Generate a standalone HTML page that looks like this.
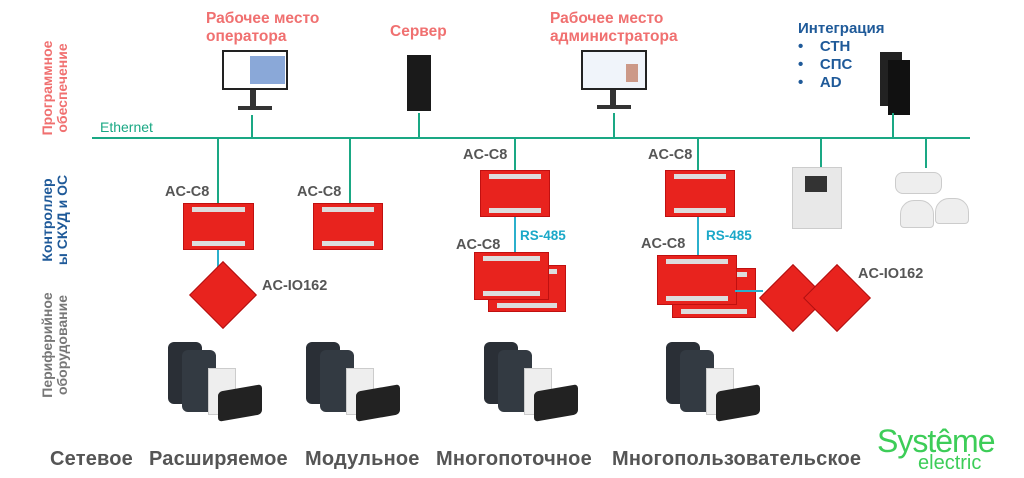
<!DOCTYPE html>
<html><head><meta charset="utf-8"><style>
body{margin:0;width:1024px;height:478px;background:#fff;position:relative;overflow:hidden;font-family:"Liberation Sans","DejaVu Sans",sans-serif}
.a{position:absolute}
.t{position:absolute;font-weight:bold;white-space:nowrap}
.pk{color:#f07070;font-size:15.5px;line-height:18px}
.gr{color:#555;font-size:14.5px}
.bl{color:#1ba8c8;font-size:13.5px}
.ln{position:absolute;background:#1aa884}
.bln{position:absolute;background:#2bb0cc}
.board{position:absolute;background:#e8231e;border:1px solid #c01010;box-sizing:border-box}
.board:before{content:"";position:absolute;left:8px;right:8px;top:3px;height:5px;background:#ddd}
.board:after{content:"";position:absolute;left:8px;right:8px;bottom:3px;height:5px;background:#ddd}
.dia{position:absolute;width:46px;height:46px;background:#e8231e;transform:rotate(45deg);border:1px solid #b01010}
.vl{position:absolute;transform:rotate(-90deg);transform-origin:center;font-weight:bold;text-align:center;font-size:14px;line-height:15px;white-space:nowrap}
.bot{position:absolute;top:448px;font-size:20px;font-weight:bold;color:#555;white-space:nowrap;letter-spacing:0.2px}
</style></head><body>
<div class="vl" style="left:-5px;top:73px;width:120px;color:#f07070">Программное<br>обеспечение</div>
<div class="vl" style="left:-5px;top:205px;width:120px;color:#1f5a99">Контроллер<br>ы СКУД и ОС</div>
<div class="vl" style="left:-5px;top:330px;width:120px;color:#777">Периферийное<br>оборудование</div>

<div class="t pk" style="left:206px;top:10px">Рабочее место<br>оператора</div>
<div class="t pk" style="left:390px;top:23px">Сервер</div>
<div class="t pk" style="left:550px;top:10px">Рабочее место<br>администратора</div>
<div class="t" style="left:798px;top:20px;color:#1f5a99;font-size:15px;line-height:18px">Интеграция<br>•&nbsp;&nbsp;&nbsp;&nbsp;СТН<br>•&nbsp;&nbsp;&nbsp;&nbsp;СПС<br>•&nbsp;&nbsp;&nbsp;&nbsp;AD</div>
<div class="a" style="left:100px;top:119px;color:#1aa884;font-size:14px">Ethernet</div>

<div class="a" style="left:222px;top:50px;width:66px;height:40px;background:#fff;border:2px solid #222;box-sizing:border-box"><div class="a" style="left:26px;top:4px;width:35px;height:28px;background:#8aa8d8"></div></div>
<div class="a" style="left:250px;top:90px;width:6px;height:16px;background:#333"></div>
<div class="a" style="left:238px;top:106px;width:34px;height:4px;background:#333"></div>
<div class="a" style="left:581px;top:50px;width:66px;height:40px;background:#f0f4fa;border:2px solid #222;box-sizing:border-box"><div class="a" style="left:43px;top:12px;width:12px;height:18px;background:#c98"></div></div>
<div class="a" style="left:610px;top:90px;width:6px;height:15px;background:#333"></div>
<div class="a" style="left:597px;top:105px;width:34px;height:4px;background:#333"></div>
<div class="a" style="left:407px;top:55px;width:24px;height:56px;background:#1a1a1a"></div>
<div class="a" style="left:880px;top:52px;width:22px;height:54px;background:#222"></div>
<div class="a" style="left:888px;top:60px;width:22px;height:55px;background:#111"></div>

<div class="ln" style="left:92px;top:137px;width:878px;height:2px"></div>
<div class="ln" style="left:251px;top:115px;width:2px;height:24px"></div>
<div class="ln" style="left:418px;top:113px;width:2px;height:26px"></div>
<div class="ln" style="left:613px;top:113px;width:2px;height:26px"></div>
<div class="ln" style="left:892px;top:113px;width:2px;height:26px"></div>
<div class="ln" style="left:217px;top:138px;width:2px;height:66px"></div>
<div class="ln" style="left:349px;top:138px;width:2px;height:66px"></div>
<div class="ln" style="left:514px;top:138px;width:2px;height:32px"></div>
<div class="ln" style="left:697px;top:138px;width:2px;height:32px"></div>
<div class="ln" style="left:820px;top:138px;width:2px;height:30px"></div>
<div class="ln" style="left:925px;top:138px;width:2px;height:30px"></div>

<div class="t gr" style="left:165px;top:184px">AC-C8</div>
<div class="t gr" style="left:297px;top:184px">AC-C8</div>
<div class="t gr" style="left:463px;top:147px">AC-C8</div>
<div class="t gr" style="left:648px;top:147px">AC-C8</div>
<div class="t gr" style="left:456px;top:237px">AC-C8</div>
<div class="t gr" style="left:641px;top:236px">AC-C8</div>
<div class="t gr" style="left:262px;top:278px">AC-IO162</div>
<div class="t gr" style="left:858px;top:266px">AC-IO162</div>
<div class="t bl" style="left:520px;top:228px">RS-485</div>
<div class="t bl" style="left:706px;top:228px">RS-485</div>

<div class="board" style="left:183px;top:203px;width:71px;height:47px"></div>
<div class="board" style="left:313px;top:203px;width:70px;height:47px"></div>
<div class="board" style="left:480px;top:170px;width:70px;height:47px"></div>
<div class="board" style="left:665px;top:170px;width:70px;height:47px"></div>
<div class="bln" style="left:514px;top:217px;width:2px;height:37px"></div>
<div class="bln" style="left:697px;top:217px;width:2px;height:40px"></div>
<div class="board" style="left:488px;top:265px;width:78px;height:47px"></div>
<div class="board" style="left:474px;top:252px;width:75px;height:48px"></div>
<div class="board" style="left:672px;top:268px;width:84px;height:50px"></div>
<div class="board" style="left:657px;top:255px;width:80px;height:50px"></div>
<div class="bln" style="left:217px;top:250px;width:2px;height:25px"></div>
<div class="bln" style="left:735px;top:290px;width:28px;height:2px"></div>
<div class="dia" style="left:199px;top:271px"></div>
<div class="dia" style="left:769px;top:274px"></div>
<div class="dia" style="left:813px;top:274px"></div>

<div class="a" style="left:792px;top:167px;width:48px;height:60px;background:#e8e8e8;border:1px solid #ccc"><div class="a" style="left:12px;top:8px;width:22px;height:16px;background:#333"></div></div>
<div class="a" style="left:895px;top:172px;width:45px;height:20px;background:#eee;border-radius:8px;border:1px solid #ccc"></div>
<div class="a" style="left:900px;top:200px;width:32px;height:26px;background:#eee;border-radius:14px 14px 4px 4px;border:1px solid #ccc"></div>
<div class="a" style="left:935px;top:198px;width:32px;height:24px;background:#eee;border-radius:14px 14px 4px 4px;border:1px solid #ccc"></div>

<div class="a" style="left:168px;top:342px;width:34px;height:62px;background:#2a2f36;border-radius:6px"></div>
<div class="a" style="left:182px;top:350px;width:34px;height:62px;background:#333a42;border-radius:6px"></div>
<div class="a" style="left:208px;top:368px;width:26px;height:45px;background:#eee;border:1px solid #ccc"></div>
<div class="a" style="left:218px;top:388px;width:44px;height:30px;background:#222;border-radius:4px;transform:skewY(-10deg)"></div>

<div class="a" style="left:306px;top:342px;width:34px;height:62px;background:#2a2f36;border-radius:6px"></div>
<div class="a" style="left:320px;top:350px;width:34px;height:62px;background:#333a42;border-radius:6px"></div>
<div class="a" style="left:346px;top:368px;width:26px;height:45px;background:#eee;border:1px solid #ccc"></div>
<div class="a" style="left:356px;top:388px;width:44px;height:30px;background:#222;border-radius:4px;transform:skewY(-10deg)"></div>

<div class="a" style="left:484px;top:342px;width:34px;height:62px;background:#2a2f36;border-radius:6px"></div>
<div class="a" style="left:498px;top:350px;width:34px;height:62px;background:#333a42;border-radius:6px"></div>
<div class="a" style="left:524px;top:368px;width:26px;height:45px;background:#eee;border:1px solid #ccc"></div>
<div class="a" style="left:534px;top:388px;width:44px;height:30px;background:#222;border-radius:4px;transform:skewY(-10deg)"></div>

<div class="a" style="left:666px;top:342px;width:34px;height:62px;background:#2a2f36;border-radius:6px"></div>
<div class="a" style="left:680px;top:350px;width:34px;height:62px;background:#333a42;border-radius:6px"></div>
<div class="a" style="left:706px;top:368px;width:26px;height:45px;background:#eee;border:1px solid #ccc"></div>
<div class="a" style="left:716px;top:388px;width:44px;height:30px;background:#222;border-radius:4px;transform:skewY(-10deg)"></div>

<div class="bot" style="left:50px">Сетевое</div>
<div class="bot" style="left:149px">Расширяемое</div>
<div class="bot" style="left:305px">Модульное</div>
<div class="bot" style="left:436px">Многопоточное</div>
<div class="bot" style="left:612px">Многопользовательское</div>
<div class="a" style="left:877px;top:426px;color:#3dcd58;font-size:32px;line-height:30px;letter-spacing:-1px">Systême</div>
<div class="a" style="left:918px;top:453px;color:#3dcd58;font-size:20px;line-height:20px">electric</div>
</body></html>
